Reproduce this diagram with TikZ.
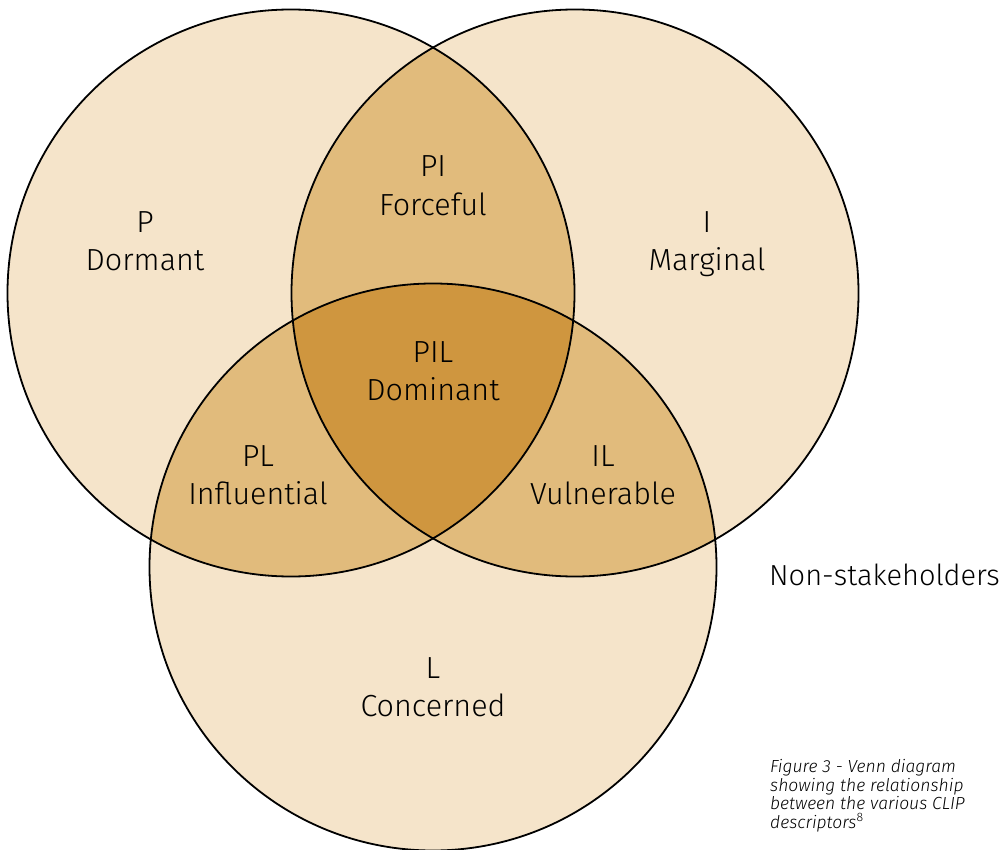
\documentclass[tikz,border=0pt]{standalone}
\usepackage{fontspec}
\setmainfont{Fira Sans}[UprightFont=* Light, ItalicFont=* Light Italic]
\begin{document}
\begin{tikzpicture}[x=1pt,y=-1pt,
  venn/.style={draw=black,line width=1.8pt},
  lbl/.style={align=center,anchor=base,inner sep=0pt,font=\fontsize{30.5}{38}\selectfont},
  captext/.style={align=left,anchor=base west,inner sep=0pt,font=\fontsize{17.5}{18.5}\selectfont\itshape}]
\definecolor{light}{HTML}{F5E4CA}
\definecolor{mid}{HTML}{E1BB7C}
\definecolor{dark}{HTML}{CF963F}
\def\R{283.5}
\useasboundingbox (0,0) rectangle (1008,850);
\coordinate (cP) at (291,293);
\coordinate (cI) at (575,293);
\coordinate (cL) at (433,567);
% base fills
\fill[light] (cP) circle (\R);
\fill[light] (cI) circle (\R);
\fill[light] (cL) circle (\R);
% pairwise overlaps
\begin{scope}
  \clip (cP) circle (\R);
  \fill[mid] (cI) circle (\R);
  \fill[mid] (cL) circle (\R);
\end{scope}
\begin{scope}
  \clip (cI) circle (\R);
  \fill[mid] (cL) circle (\R);
\end{scope}
% triple overlap
\begin{scope}
  \clip (cP) circle (\R);
  \clip (cI) circle (\R);
  \fill[dark] (cL) circle (\R);
\end{scope}
% outlines
\draw[venn] (cP) circle (\R);
\draw[venn] (cI) circle (\R);
\draw[venn] (cL) circle (\R);
% labels (base anchor = baseline of the last line)
\node[lbl] (tP) at (145,270) {P\\Dormant};
\node[lbl] (tPI) at (433,215) {PI\\Forceful};
\node[lbl] (tI) at (707,270) {I\\Marginal};
\node[lbl] (tPIL) at (433,400) {PIL\\Dominant};
\node[lbl] (tPL) at (258,504) {PL\\Influential};
\node[lbl] (tIL) at (603,504) {IL\\Vulnerable};
\node[lbl] (tL) at (433,716) {L\\Concerned};
\node[lbl,anchor=base west,font=\fontsize{29}{34}\selectfont] (tN) at (769,585) {Non-stakeholders};
\node[captext] (tC) at (770,828) {Figure 3 - Venn diagram\\showing the relationship\\between the various CLIP\\descriptors\textsuperscript{\upshape 8}};
\end{tikzpicture}
\end{document}
